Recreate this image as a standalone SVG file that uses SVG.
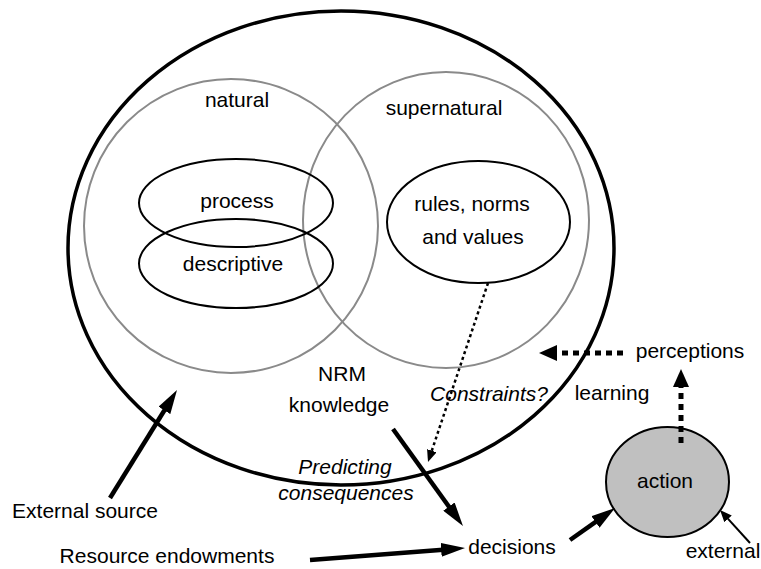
<svg xmlns="http://www.w3.org/2000/svg" width="761" height="569" viewBox="0 0 761 569">
<style>
text{font-family:"Liberation Sans",Arial,sans-serif;font-size:21px;fill:#000;text-anchor:middle}
.it{font-style:italic}
.big{fill:none;stroke:#000;stroke-width:3.5}
.gray{fill:none;stroke:#8a8a8a;stroke-width:2}
.ell{fill:none;stroke:#000;stroke-width:2}
.act{fill:#c0c0c0;stroke:#000;stroke-width:2}
.thick{fill:none;stroke:#000;stroke-width:4.5;marker-end:url(#hb)}
.thin{fill:none;stroke:#000;stroke-width:2;marker-end:url(#hs)}
.dot{fill:none;stroke:#000;stroke-width:5;stroke-dasharray:6 5;marker-end:url(#hd)}
.fine{fill:none;stroke:#000;stroke-width:2.5;stroke-dasharray:3 3;marker-end:url(#hs)}
</style>
<defs>
<marker id="hb" markerUnits="userSpaceOnUse" markerWidth="24" markerHeight="14" viewBox="0 0 24 14" refX="2" refY="7" orient="auto"><path d="M0,0 L24,7 L0,14 z" fill="#000"/></marker>
<marker id="hd" markerUnits="userSpaceOnUse" markerWidth="18" markerHeight="16" viewBox="0 0 18 16" refX="1" refY="8" orient="auto"><path d="M0,0 L18,8 L0,16 z" fill="#000"/></marker>
<marker id="hs" markerUnits="userSpaceOnUse" markerWidth="12" markerHeight="10" viewBox="0 0 12 10" refX="1" refY="5" orient="auto"><path d="M0,0 L12,5 L0,10 z" fill="#000"/></marker>
</defs>
<g id="knowledge">
<ellipse class="big" cx="341" cy="248" rx="273" ry="237"/>
<text x="342" y="381">NRM</text>
<text x="339" y="412">knowledge</text>
</g>
<g id="natural">
<ellipse class="gray" cx="231" cy="226" rx="147" ry="147"/>
<text x="237" y="107">natural</text>
</g>
<g id="supernatural">
<ellipse class="gray" cx="446" cy="220" rx="143" ry="148"/>
<text x="444" y="115">supernatural</text>
</g>
<g id="process">
<ellipse class="ell" cx="236" cy="203" rx="97" ry="44"/>
<text x="237" y="208">process</text>
</g>
<g id="descriptive">
<ellipse class="ell" cx="236" cy="263.5" rx="97" ry="44.5"/>
<text x="233" y="271">descriptive</text>
</g>
<g id="rules">
<ellipse class="ell" cx="478.5" cy="222" rx="91.5" ry="61"/>
<text x="472" y="211">rules, norms</text>
<text x="473" y="244">and values</text>
</g>
<g id="action">
<ellipse class="act" cx="667.5" cy="482" rx="61.5" ry="55"/>
<text x="665" y="488">action</text>
</g>
<g id="perceptions"><text x="690" y="358">perceptions</text></g>
<g id="decisions"><text x="512" y="554">decisions</text></g>
<g id="external-source"><text x="85" y="518">External source</text></g>
<g id="resource-endowments"><text x="167" y="563">Resource endowments</text></g>
<g id="external"><text x="723" y="558">external</text></g>
<g id="connectors">
<line class="thick" x1="110" y1="498" x2="165.4" y2="408.7"/>
<line class="thick" x1="310" y1="560" x2="443.1" y2="549.7"/>
<line class="thick" x1="393" y1="429" x2="450.1" y2="508.2"/>
<line class="thick" x1="570" y1="540" x2="597.1" y2="520.8"/>
<line class="thin" x1="750" y1="543" x2="727.4" y2="518.1"/>
<line class="dot" x1="623" y1="353" x2="556" y2="353"/>
<line class="dot" x1="681" y1="443" x2="681" y2="386"/>
<line class="fine" x1="488" y1="283" x2="431.5" y2="451.6"/>
<text class="it" x="489" y="401">Constraints?</text>
<text x="612" y="400">learning</text>
<text class="it" x="345" y="474">Predicting</text>
<text class="it" x="346" y="500">consequences</text>
</g>
</svg>
